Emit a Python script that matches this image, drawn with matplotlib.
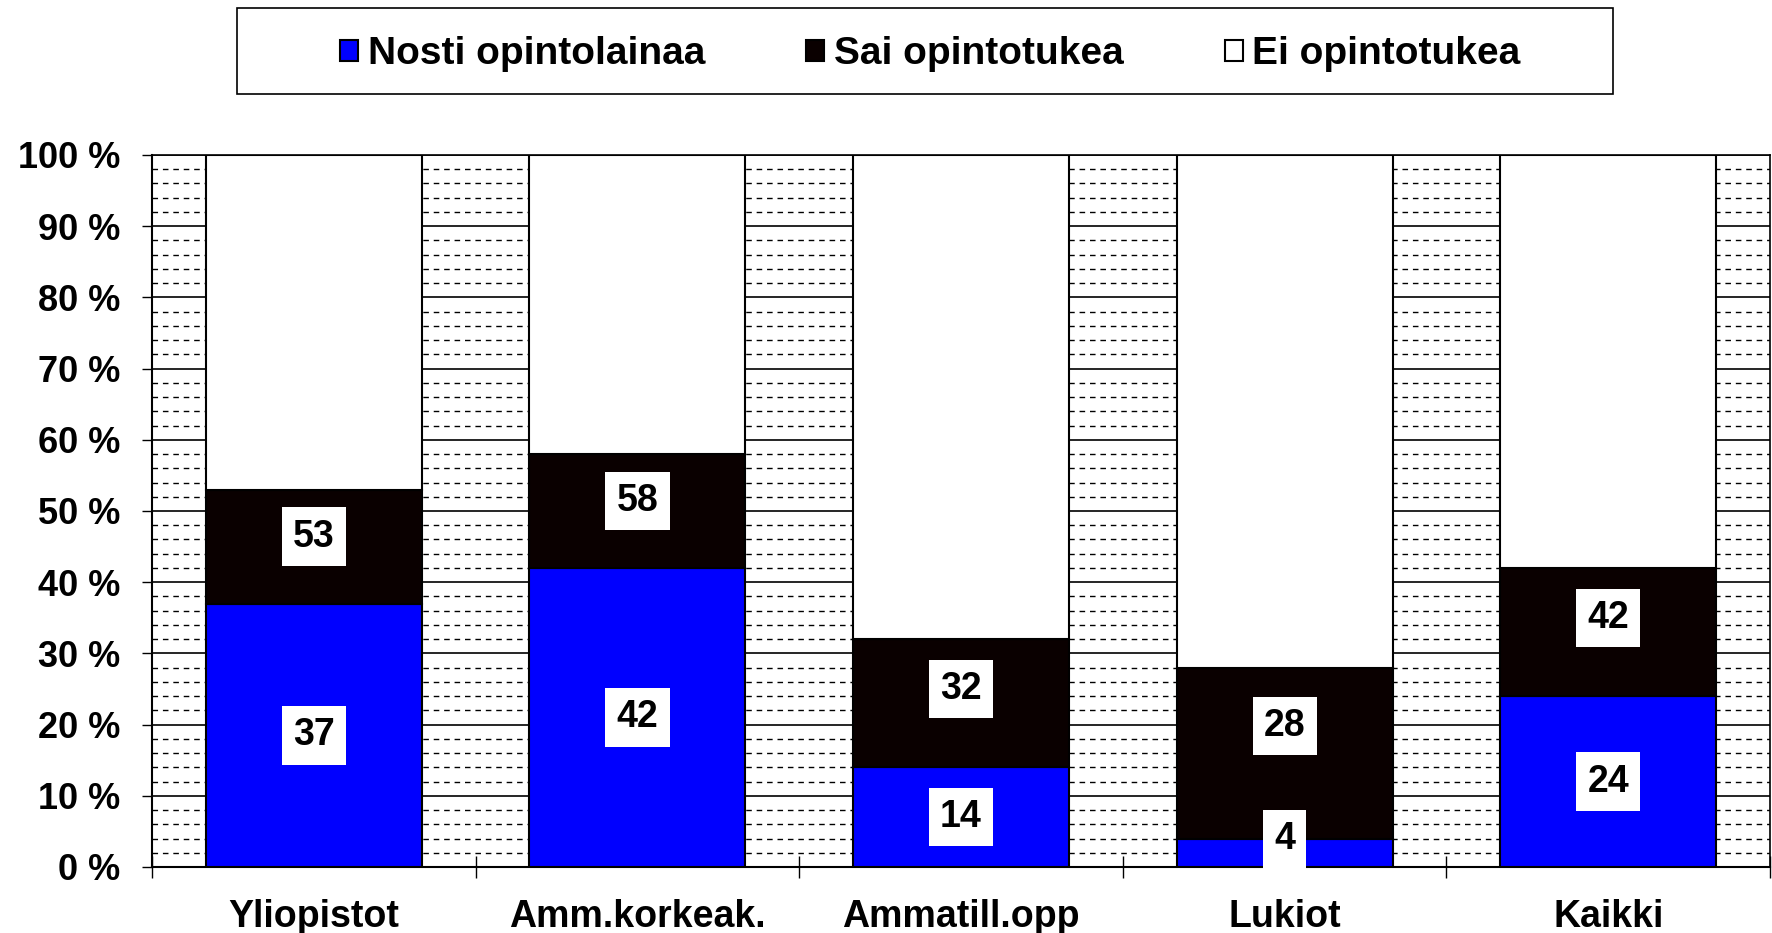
import matplotlib
matplotlib.use("Agg")
import matplotlib.pyplot as plt
from matplotlib.patches import Rectangle
from matplotlib.ticker import FixedLocator, MultipleLocator
import numpy as np

plt.rcParams["font.family"] = ["Liberation Sans", "DejaVu Sans"]
plt.rcParams["font.weight"] = "bold"

categories = ["Yliopistot", "Amm.korkeak.", "Ammatill.opp", "Lukiot", "Kaikki"]
laina = [37, 42, 14, 4, 24]      # Nosti opintolainaa (%)
tuki = [53, 58, 32, 28, 42]      # Sai opintotukea, yhteensä (%)
series_names = ["Nosti opintolainaa", "Sai opintotukea", "Ei opintotukea"]

BLUE = "#0000FF"
BLACK = "#0A0000"

laina = np.array(laina)
tuki = np.array(tuki)
x = np.arange(len(categories))
w = 0.667

fig = plt.figure(figsize=(17.72, 9.33), dpi=100, facecolor="white")
ax = fig.add_axes([152 / 1772, 1 - 867 / 933, 1618 / 1772, 712 / 933])

b1 = ax.bar(x, laina, w, color=BLUE, edgecolor="black", linewidth=1.5, zorder=3)
b2 = ax.bar(x, tuki - laina, w, bottom=laina, color=BLACK, edgecolor="black",
            linewidth=1.5, zorder=3)
b3 = ax.bar(x, 100 - tuki, w, bottom=tuki, color="white", edgecolor="black",
            linewidth=1.5, zorder=3)

box = dict(boxstyle="square,pad=0.3", facecolor="white", edgecolor="none")
lab_kw = dict(ha="center", fontsize=27, fontweight="bold", bbox=box, zorder=5)
for i in range(len(categories)):
    if laina[i] < 8:
        ax.annotate(str(laina[i]), (x[i], 0), xytext=(0, 7), textcoords="offset points",
                    va="bottom", **lab_kw)
    else:
        ax.text(x[i], laina[i] / 2, str(laina[i]), va="center", **lab_kw)
    # label sits in the upper part of the black segment, as in the original
    seg = tuki[i] - laina[i]
    ax.text(x[i], tuki[i] - 0.2 * seg - 3.4, str(tuki[i]), va="center", **lab_kw)

ax.set_xlim(-0.5, len(categories) - 0.5)
ax.set_ylim(0, 100)

ax.yaxis.set_major_locator(FixedLocator(range(0, 101, 10)))
ax.yaxis.set_minor_locator(MultipleLocator(2))
ax.set_yticklabels([f"{v} %" for v in range(0, 101, 10)])
ax.grid(axis="y", which="major", color="black", linewidth=1.2, zorder=0)
ax.grid(axis="y", which="minor", color="black", linewidth=1.0, linestyle=(0, (4, 3.5)),
        zorder=0)
ax.tick_params(axis="y", which="major", length=7.5, width=1, labelsize=26, pad=15)
ax.tick_params(axis="y", which="minor", length=0)

ax.set_xticks(x)
ax.set_xticklabels(categories)
ax.xaxis.set_minor_locator(FixedLocator(np.arange(-0.5, len(categories), 1.0)))
ax.tick_params(axis="x", which="major", length=0, labelsize=27, pad=23)
ax.tick_params(axis="x", which="minor", direction="inout", length=16, width=1)
ax.set_axisbelow(True)

for s in ax.spines.values():
    s.set_linewidth(1.2)
ax.spines["left"].set_linewidth(1.5)
ax.spines["bottom"].set_linewidth(1.5)

# legend frame
fig.patches.append(Rectangle((237 / 1772, 1 - 94 / 933), 1376 / 1772, 86 / 933,
                             transform=fig.transFigure, facecolor="white",
                             edgecolor="black", linewidth=1.2, zorder=0))
fig.legend(handles=[b1, b2, b3], labels=series_names, loc="center", ncol=3,
           bbox_to_anchor=(0.525, 1 - 54 / 933), frameon=False,
           handlelength=0.46, handleheight=0.46, handletextpad=0.25,
           columnspacing=2.6, prop={"weight": "bold", "size": 28})

fig.savefig("out.png", dpi=100, facecolor="white")
